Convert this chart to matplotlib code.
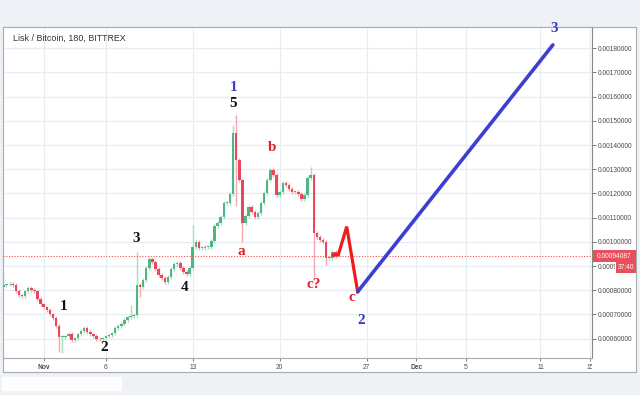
import numpy as np
import matplotlib
matplotlib.use('Agg')
import matplotlib.pyplot as plt
from matplotlib.patches import Rectangle, FancyBboxPatch
from matplotlib.transforms import Bbox, TransformedBbox

# ---------------- data ----------------
title = "Lisk / Bitcoin, 180, BITTREX"
start_day = -3.25          # first candle time, days relative to Nov 1 00:00
step_day = 0.25            # candle spacing in days
first_open_sat = 81500
closes_sat = [
    82200, 82400, 82610, 82200, 79720, 77860, 77440, 79510, 80960, 80130,
    79510, 76410, 74140, 72900, 71870, 70010, 68560, 65260, 60710, 60710,
    60920, 61950, 59470, 60090, 61740, 63190, 64430, 62780, 61740, 61120,
    59880, 59680, 60090, 60920, 61540, 62160, 64430, 65260, 66080, 67730,
    68770, 69390, 69800, 82200, 81370, 84260, 89220, 92940, 91700, 88810,
    86330, 85090, 83440, 85500, 88810, 90870, 91290, 89220, 87570, 86740,
    89220, 97900, 99960, 97490, 97490, 97900, 97900, 100380, 106580, 107810,
    110290, 116080, 116080, 119800, 145000, 133850, 125580, 107810, 110710, 114430,
    112360, 110290, 111950, 116080, 120210, 125580, 129710, 127650, 119380, 120620,
    124340, 123520, 121860, 120620, 120620, 119800, 117730, 119380, 126410, 127650,
    103680, 102030, 100790, 99960, 93350, 93350, 95830, 94087,
]
wick_high_sat = {0: 87150, 41: 74000, 43: 95830, 61: 107000, 74: 148310,
                 75: 152440, 99: 130950}
wick_low_sat = {18: 54300, 19: 54100, 44: 77240, 75: 115000, 77: 99960,
                100: 85500, 104: 90460}

current_price = 0.00094087
timer_text = "37:40"

tick_days = [0, 5, 12, 19, 26, 30, 34, 40, 44]
tick_labels = ['Nov', '6', '13', '20', '27', 'Dec', '5', '11', '15']
bold_ticks = ['Nov', 'Dec']
price_ticks = [0.0006, 0.0007, 0.0008, 0.0009, 0.0010, 0.0011, 0.0012,
               0.0013, 0.0014, 0.0015, 0.0016, 0.0017, 0.0018]

# Elliott wave drawing (days, price)
red_wave_days = [23.32, 23.72, 24.40, 25.28]
red_wave_price = [0.000946, 0.000946, 0.001063, 0.000794]
blue_wave_days = [25.28, 41.0]
blue_wave_price = [0.000794, 0.001814]

wave_labels = [
    ('1', 1.63, 0.000731, 'black'),
    ('2', 4.86, 0.000562, 'black'),
    ('3', 7.43, 0.001012, 'black'),
    ('4', 11.38, 0.000810, 'black'),
    ('1', 15.32, 0.001636, 'blue'),
    ('5', 15.24, 0.001570, 'black'),
    ('a', 15.89, 0.000962, 'red'),
    ('b', 18.38, 0.001392, 'red'),
    ('c?', 21.76, 0.000822, 'red'),
    ('c', 24.82, 0.000772, 'red'),
    ('2', 25.55, 0.000677, 'blue'),
    ('3', 41.09, 0.001880, 'blue'),
]

# ---------------- styles ----------------
W, H = 640, 395
GREEN = '#4fb583'
RED = '#e9485a'
GREEN_W = '#acdcc3'
RED_W = '#f4a9b2'
GRID = '#e6edf3'
LABEL_COL = {'black': '#111111', 'blue': '#3a3cc8', 'red': '#e61e28'}

fig = plt.figure(figsize=(W / 100, H / 100), dpi=100, facecolor='#eef2f6')

# outer chart frame
fig.patches.append(Rectangle((3 / W, 1 - 372 / H), (636 - 3) / W, (372 - 27) / H,
                             transform=fig.transFigure, facecolor='white',
                             edgecolor='#a8acb0', lw=0.8, zorder=-2))
# blurred white patch bottom-left
fig.patches.append(FancyBboxPatch((4 / W, 1 - 390 / H), 116 / W, 12 / H,
                                  boxstyle='round,pad=0.003',
                                  transform=fig.transFigure, facecolor='white',
                                  edgecolor='none', alpha=0.95, zorder=-1))

ax = fig.add_axes([3 / W, 1 - 358 / H, (592 - 3) / W, (358 - 27) / H])
ax.set_facecolor('white')

t = start_day + step_day * np.arange(len(closes_sat))
closes = np.array(closes_sat) * 1e-8
opens = np.concatenate([[first_open_sat * 1e-8], closes[:-1]])
highs = np.maximum(opens, closes) + 8e-6
lows = np.minimum(opens, closes) - 8e-6
for k, v in wick_high_sat.items():
    highs[k] = v * 1e-8
for k, v in wick_low_sat.items():
    lows[k] = v * 1e-8

up = closes >= opens
ax.vlines(t[up], lows[up], highs[up], color=GREEN_W, lw=1.0, zorder=2)
ax.vlines(t[~up], lows[~up], highs[~up], color=RED_W, lw=1.0, zorder=2)
body_bottom = np.minimum(opens, closes)
body_h = np.maximum(np.abs(closes - opens), 3.5e-6)
ax.bar(t[up], body_h[up], bottom=body_bottom[up], width=0.2, color=GREEN,
       linewidth=0, zorder=3)
ax.bar(t[~up], body_h[~up], bottom=body_bottom[~up], width=0.2, color=RED,
       linewidth=0, zorder=3)

ax.plot(red_wave_days, red_wave_price, color='#f01c1c', lw=2.3,
        solid_joinstyle='miter', zorder=5)
ax.plot(blue_wave_days, blue_wave_price, color='#3c3fcf', lw=2.6, zorder=5,
        solid_capstyle='round')

ax.axhline(current_price, color='#ef5350', lw=0.8, ls=(0, (1, 1.5)), zorder=4)

for txt, d, p, c in wave_labels:
    ax.text(d, p, txt, color=LABEL_COL[c], fontsize=11, fontweight='bold',
            family='Liberation Serif', ha='center', va='center', zorder=6)

ax.set_xlim(-3.277, 44.15)
ax.set_ylim(0.0005202, 0.001888)

ax.set_xticks(tick_days)
ax.set_xticklabels(tick_labels)
ax.set_yticks(price_ticks)
ax.set_yticklabels(['{:.8f}'.format(v) for v in price_ticks])
ax.yaxis.tick_right()
ax.tick_params(axis='y', direction='out', length=3, width=0.6, color='#666666',
               labelsize=4.8, labelcolor='#4a4a4a', pad=1.5)
ax.tick_params(axis='x', direction='out', length=2, width=0.6, color='#666666',
               labelsize=4.8, labelcolor='#4a4a4a', pad=2)
timer_clip = TransformedBbox(Bbox([[0, 0], [615 / W, 1]]), fig.transFigure)
for lab in ax.get_yticklabels():
    lab.set_family('Liberation Sans')
    if lab.get_text() == '{:.8f}'.format(0.0009):
        lab.set_clip_box(timer_clip)
        lab.set_clip_on(True)
clip_bb = TransformedBbox(Bbox([[0, 0], [592 / W, 1]]), fig.transFigure)
for lab in ax.get_xticklabels():
    lab.set_family('Liberation Sans')
    if lab.get_text() in bold_ticks:
        lab.set_fontweight('bold')
    lab.set_clip_box(clip_bb)
    lab.set_clip_on(True)

ax.grid(True, color=GRID, lw=0.9, zorder=0)
ax.set_axisbelow(True)
for s in ['left', 'top', 'bottom']:
    ax.spines[s].set_color('#a8acb0')
    ax.spines[s].set_linewidth(0.8)
ax.spines['right'].set_color('#888888')
ax.spines['right'].set_linewidth(0.8)

ax.text(10 / 589, 1 - (38 - 27) / 331, title, transform=ax.transAxes,
        fontsize=6.4, family='Liberation Sans', color='#333333',
        ha='left', va='center', zorder=7)

# price-axis labels for current price and timer
fig.patches.append(Rectangle((593 / W, 1 - 262 / H), 43 / W, 12 / H,
                             transform=fig.transFigure, facecolor='#e8505b',
                             edgecolor='none', zorder=3))
fig.text(614.5 / W, 1 - 256 / H, '{:.8f}'.format(current_price), color='white',
         fontsize=4.8, family='Liberation Sans', ha='center', va='center', zorder=4)
fig.patches.append(Rectangle((616 / W, 1 - 273 / H), 20 / W, 11 / H,
                             transform=fig.transFigure, facecolor='#e8505b',
                             edgecolor='none', zorder=3))
fig.text(626 / W, 1 - 267.5 / H, timer_text, color='white',
         fontsize=4.8, family='Liberation Sans', ha='center', va='center', zorder=4)

fig.savefig('out.png', dpi=100, facecolor=fig.get_facecolor())
